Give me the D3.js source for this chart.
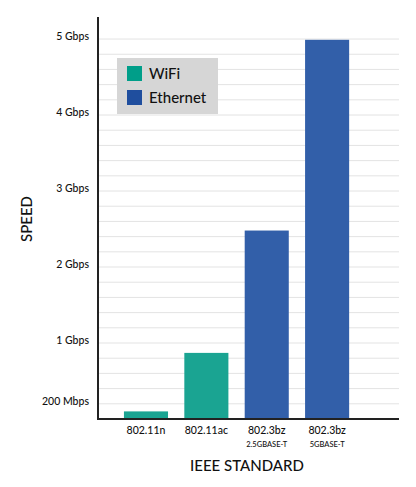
<!DOCTYPE html>
<html>
<head>
<script src="https://cdn.jsdelivr.net/npm/d3@7"></script>
<style>
  body { margin:0; background:#fff; }
  text { font-family: Lato, "Open Sans", sans-serif; font-weight: 500; }
</style>
</head>
<body>
<svg></svg>
<script>
var categories = ["802.11n", "802.11ac", "802.3bz", "802.3bz"];
var subLabels = ["", "", "2.5GBASE-T", "5GBASE-T"];
var speeds = [0.1, 0.87, 2.48, 4.99];  // Gbps
var kinds = ["WiFi", "WiFi", "Ethernet", "Ethernet"];
var tickValues = [0.2, 1, 2, 3, 4, 5];
var tickLabels = ["200 Mbps", "1 Gbps", "2 Gbps", "3 Gbps", "4 Gbps", "5 Gbps"];

var barColor = {WiFi: "#1aa492", Ethernet: "#325fa9"};
var keyColor = {WiFi: "#009e89", Ethernet: "#1f4e9e"};

var W = 416, H = 487;
var plotLeft = 98, plotRight = 399, plotTop = 17, plotBottom = 419;

var svg = d3.select("svg").attr("width", W).attr("height", H);

var y = d3.scaleLinear().domain([0, 5.29]).range([plotBottom, plotTop]);
var x = d3.scaleBand().domain(d3.range(categories.length))
  .range([115.8, 357.3]).paddingInner(0.27).paddingOuter(0.135);

// gridlines every 0.2 Gbps
svg.append("g").selectAll("line")
  .data(d3.range(1, 26).map(function(i){ return i * 0.2; }))
  .enter().append("line")
  .attr("x1", plotLeft).attr("x2", plotRight)
  .attr("y1", function(d){ return y(d); }).attr("y2", function(d){ return y(d); })
  .attr("stroke", "#e3e3e3").attr("stroke-width", 1);

svg.append("g").selectAll("text")
  .data(tickValues).enter().append("text")
  .attr("x", 89).attr("y", function(d){ return y(d) + 1; })
  .attr("text-anchor", "end").attr("font-size", 10.5).attr("fill", "#111")
  .text(function(d, i){ return tickLabels[i]; });

svg.append("g").selectAll("rect")
  .data(speeds).enter().append("rect")
  .attr("x", function(d, i){ return x(i); })
  .attr("width", x.bandwidth())
  .attr("y", function(d){ return y(d); })
  .attr("height", function(d){ return plotBottom - y(d); })
  .attr("fill", function(d, i){ return barColor[kinds[i]]; });

// axes lines
svg.append("line").attr("x1", plotLeft).attr("x2", plotLeft).attr("y1", plotTop).attr("y2", plotBottom + 1)
  .attr("stroke", "#222").attr("stroke-width", 2);
svg.append("line").attr("x1", plotLeft - 1).attr("x2", plotRight).attr("y1", plotBottom).attr("y2", plotBottom)
  .attr("stroke", "#222").attr("stroke-width", 2);

var xl = svg.append("g").selectAll("g").data(categories).enter().append("g")
  .attr("transform", function(d, i){ return "translate(" + (x(i) + x.bandwidth() / 2) + ",0)"; });
xl.append("text").attr("y", 434).attr("text-anchor", "middle").attr("font-size", 10.5).attr("fill", "#111")
  .text(function(d){ return d; });
xl.append("text").attr("y", 447).attr("text-anchor", "middle").attr("font-size", 7.5).attr("font-weight", 600).attr("fill", "#111")
  .text(function(d, i){ return subLabels[i]; });

svg.append("text").attr("x", 247).attr("y", 471).attr("text-anchor", "middle")
  .attr("font-size", 15).attr("fill", "#111").text("IEEE STANDARD");
svg.append("text").attr("transform", "translate(32,219) rotate(-90)").attr("text-anchor", "middle")
  .attr("font-size", 15).attr("fill", "#111").text("SPEED");

// legend
var lg = svg.append("g").attr("transform", "translate(117,58)");
lg.append("rect").attr("width", 101).attr("height", 56).attr("fill", "#d6d6d6");
var items = lg.selectAll("g").data(["WiFi", "Ethernet"]).enter().append("g")
  .attr("transform", function(d, i){ return "translate(10," + (8 + i * 24) + ")"; });
items.append("rect").attr("width", 15).attr("height", 15).attr("fill", function(d){ return keyColor[d]; });
items.append("text").attr("x", 22).attr("y", 13).attr("font-size", 15).attr("fill", "#111")
  .text(function(d){ return d; });
</script>
</body>
</html>
